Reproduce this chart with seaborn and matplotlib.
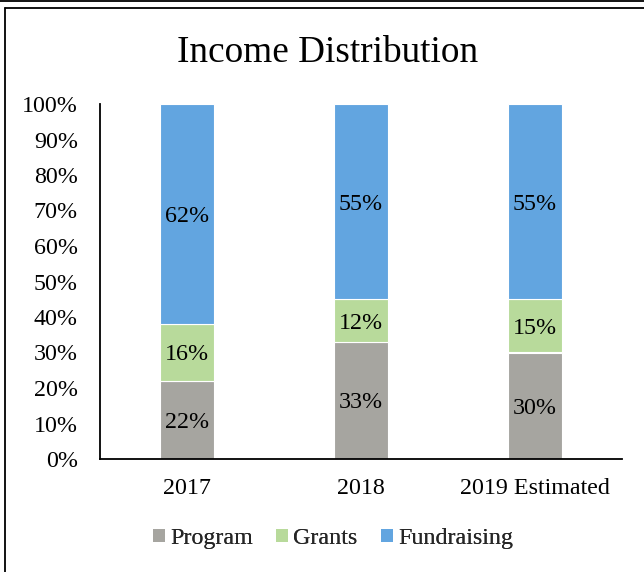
import matplotlib
matplotlib.use("Agg")
import matplotlib.pyplot as plt
from matplotlib.lines import Line2D
from matplotlib.patches import Patch
import seaborn as sns
import pandas as pd
import numpy as np

years = ["2017", "2018", "2019 Estimated"]
program = [22, 33, 30]
grants = [16, 12, 15]
fundraising = [62, 55, 55]
series_names = ["Program", "Grants", "Fundraising"]
colors = ["#A6A5A0", "#B8DA9B", "#62A5E0"]
y_ticks = [0, 10, 20, 30, 40, 50, 60, 70, 80, 90, 100]
title = "Income Distribution"

sns.set_theme(style="white")
plt.rcParams["font.family"] = ["Liberation Serif", "DejaVu Serif"]

FS = 17.3
W, H = 644, 572
fig = plt.figure(figsize=(W / 100, H / 100), dpi=100)
ax = fig.add_axes([100 / W, 1 - 459 / H, 522 / W, 355 / H])

values = [program, grants, fundraising]
bottom = np.zeros(len(years))
for name, vals, col in zip(series_names, values, colors):
    df = pd.DataFrame({"year": years, "pct": vals})
    sns.barplot(data=df, x="year", y="pct", color=col, width=0.31,
                bottom=bottom.copy(), ax=ax, edgecolor="white", linewidth=0.8,
                saturation=1)
    for i, v in enumerate(vals):
        ax.text(i, bottom[i] + v / 2, f"{v}%", ha="center", va="center_baseline",
                fontsize=FS, color="black")
    bottom = bottom + np.array(vals)

ax.set_xlim(-0.5, 2.5)
ax.set_ylim(0, 100)
ax.set_yticks(y_ticks)
ax.set_yticklabels([f"{t}%" for t in y_ticks])
ax.set_xlabel("")
ax.set_ylabel("")
ax.tick_params(axis="y", length=0, pad=16, labelsize=FS, labelcolor="black")
ax.tick_params(axis="x", length=0, pad=14, labelsize=FS, labelcolor="black")
for s in ["top", "right"]:
    ax.spines[s].set_visible(False)
for s in ["left", "bottom"]:
    ax.spines[s].set_visible(True)
    ax.spines[s].set_color("black")
    ax.spines[s].set_linewidth(1.3)
ax.grid(False)

fig.text(328 / W, 1 - 53 / H, title, ha="center", va="center", fontsize=26.8,
         color="black")

# legend: one entry per legend, anchored at the top so labels share a baseline
legend_x = [153, 276, 381]
for name, col, lx in zip(series_names, colors, legend_x):
    leg = fig.legend([Patch(facecolor=col, edgecolor="none")], [name],
                     loc="upper left", bbox_to_anchor=(lx / W, 1 - 528 / H),
                     frameon=False, fontsize=FS, handlelength=0.5, handleheight=0.5,
                     handletextpad=0.22, borderpad=0, borderaxespad=0)
    fig.add_artist(leg)

# outer frame decoration
fig.add_artist(Line2D([0, 1], [1 - 0.8 / H, 1 - 0.8 / H], transform=fig.transFigure,
                      color="black", linewidth=1.3))
fig.add_artist(Line2D([5 / W, 1], [1 - 7.5 / H, 1 - 7.5 / H], transform=fig.transFigure,
                      color="black", linewidth=1.3))
fig.add_artist(Line2D([5 / W, 5 / W], [0, 1 - 7.5 / H], transform=fig.transFigure,
                      color="black", linewidth=1.3))

fig.savefig("out.png", dpi=100)
